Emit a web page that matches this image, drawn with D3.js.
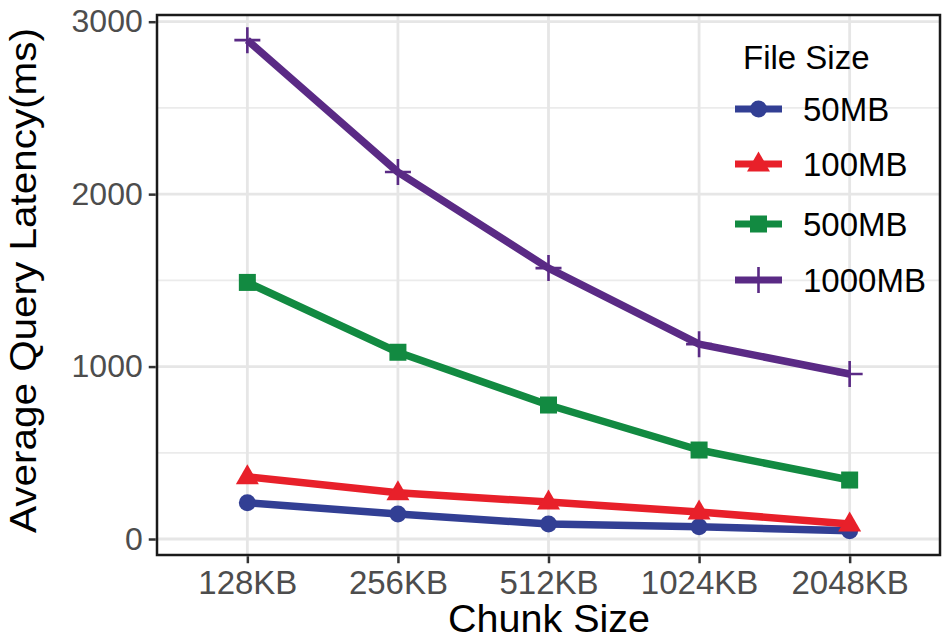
<!DOCTYPE html>
<html><head><meta charset="utf-8">
<script src="https://cdn.jsdelivr.net/npm/d3@7"></script>
<style>body{margin:0;background:#fff}svg{display:block;font-family:"Liberation Sans",Arial,sans-serif}</style>
</head><body><svg id="c" width="950" height="642"></svg>
<script>
const categories = ["128KB","256KB","512KB","1024KB","2048KB"];
const seriesNames = ["50MB","100MB","500MB","1000MB"];
const v50 = [210,145,87,71,48];
const v100 = [361,268,214,157,87];
const v500 = [1488,1083,777,516,342];
const v1000 = [2893,2128,1571,1130,957];
const yTicks = [0,1000,2000,3000];
const yMinor = [500,1500,2500];
const colors = ["#323f94","#e8202a","#128a41","#5a2a85"];
const shapes = ["circle","triangle","square","cross"];
const seriesVals = [v50,v100,v500,v1000];

const svg = d3.select("#c");
const L=157, R=940, T=15, B=555;
const x = d3.scalePoint().domain(categories).range([L,R]).padding(0.6);
const y = d3.scaleLinear().domain([0,3000]).range([539,21.7]);

// grid
const g = svg.append("g");
g.selectAll(".ymin").data(yMinor).join("line").attr("x1",L).attr("x2",R).attr("y1",d=>y(d)).attr("y2",d=>y(d)).attr("stroke","#ebebeb").attr("stroke-width",1.8);
g.selectAll(".ymaj").data(yTicks).join("line").attr("x1",L).attr("x2",R).attr("y1",d=>y(d)).attr("y2",d=>y(d)).attr("stroke","#e6e6e6").attr("stroke-width",2.8);
g.selectAll(".xmaj").data(categories).join("line").attr("y1",T).attr("y2",B).attr("x1",d=>x(d)).attr("x2",d=>x(d)).attr("stroke","#e6e6e6").attr("stroke-width",2.8);

// lines
const line = d3.line().x((d,i)=>x(categories[i])).y(d=>y(d));
seriesVals.forEach((vals,si)=>{
  svg.append("path").datum(vals).attr("d",line).attr("fill","none").attr("stroke",colors[si]).attr("stroke-width",7.5).attr("stroke-linejoin","round");
});
function drawShape(sel, shape, color, cx, cy){
  if(shape==="circle") sel.append("circle").attr("cx",cx).attr("cy",cy).attr("r",8.5).attr("fill",color);
  else if(shape==="square") sel.append("rect").attr("x",cx-8.5).attr("y",cy-8.5).attr("width",17).attr("height",17).attr("fill",color);
  else if(shape==="triangle") sel.append("path").attr("d",`M${cx},${cy-12.5}L${cx+11.5},${cy+7.5}L${cx-11.5},${cy+7.5}Z`).attr("fill",color);
  else { sel.append("path").attr("d",`M${cx-13},${cy}H${cx+13}M${cx},${cy-13}V${cy+13}`).attr("stroke",color).attr("stroke-width",2.6); }
}
seriesVals.forEach((vals,si)=>{
  const gg = svg.append("g");
  vals.forEach((v,i)=>drawShape(gg,shapes[si],colors[si],x(categories[i]),y(v)));
});

// border
svg.append("rect").attr("x",L).attr("y",T).attr("width",R-L).attr("height",B-T).attr("fill","none").attr("stroke","#1a1a1a").attr("stroke-width",2.5);

// axes
const yAxis = svg.append("g").attr("transform",`translate(${L-1.25},0)`).call(d3.axisLeft(y).tickValues(yTicks).tickSize(7).tickPadding(6).tickFormat(d3.format("d")));
const xAxis = svg.append("g").attr("transform",`translate(0,${B+1.25})`).call(d3.axisBottom(x).tickSize(7).tickPadding(7));
[yAxis,xAxis].forEach(a=>{
  a.select(".domain").remove();
  a.selectAll(".tick line").attr("stroke","#333").attr("stroke-width",2.5);
  a.selectAll("text").attr("fill","#4d4d4d").style("font-size","32px").attr("font-family","Liberation Sans, Arial, sans-serif");
});
xAxis.selectAll("text").style("font-size","33px");

svg.append("text").attr("x",549).attr("y",632).attr("text-anchor","middle").style("font-size","38px").attr("fill","#000")
  .attr("textLength",202).attr("lengthAdjust","spacingAndGlyphs").text("Chunk Size");
svg.append("text").attr("transform",`translate(36,${(28+533)/2}) rotate(-90)`).attr("text-anchor","middle").style("font-size","37px").attr("fill","#000")
  .attr("textLength",505).attr("lengthAdjust","spacingAndGlyphs").text("Average Query Latency(ms)");

// legend
const lg = svg.append("g");
lg.append("text").attr("x",743).attr("y",69).style("font-size","33px").attr("fill","#000").text("File Size");
const ly = [109,164,224,280];
seriesNames.forEach((n,i)=>{
  lg.append("line").attr("x1",735).attr("x2",782).attr("y1",ly[i]).attr("y2",ly[i]).attr("stroke",colors[i]).attr("stroke-width",7);
  drawShape(lg,shapes[i],colors[i],758.5,ly[i]);
  lg.append("text").attr("x",803).attr("y",ly[i]+12).style("font-size","33px").attr("fill","#000").text(n);
});
</script></body></html>
